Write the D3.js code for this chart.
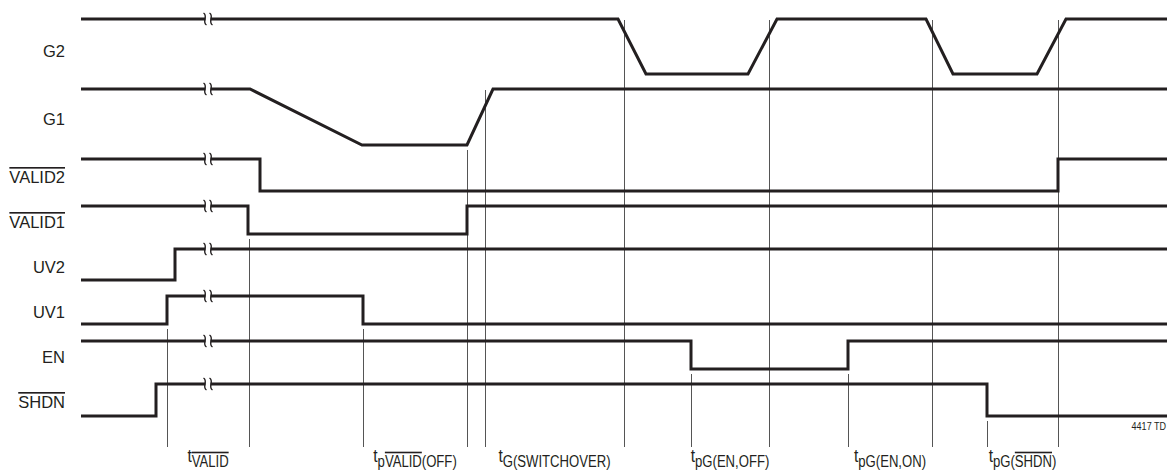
<!DOCTYPE html>
<html>
<head>
<meta charset="utf-8">
<script src="https://cdn.jsdelivr.net/npm/d3@7"></script>
<style>
  body { margin: 0; background: #fff; }
  text { font-family: "Liberation Sans", Arial, sans-serif; fill: #231f20; }
</style>
</head>
<body>
<svg id="chart"></svg>
<script>
// signal names, top to bottom
const signalNames = ["G2", "G1", "VALID2", "VALID1", "UV2", "UV1", "EN", "SHDN"];
const overlinedNames = ["VALID2", "VALID1", "SHDN"];

// waveforms: [time, level] (level 1 = high, 0 = low)
const waveG2 = [[0, 1], [537, 1], [565, 0], [667, 0], [696, 1], [845, 1], [872, 0], [956, 0], [985, 1], [1086, 1]];
const waveG1 = [[0, 1], [169, 1], [281, 0], [386, 0], [412, 1], [1086, 1]];
const waveValid2 = [[0, 1], [179, 0], [977, 1], [1086, 1]];
const waveValid1 = [[0, 1], [167, 0], [386, 1], [1086, 1]];
const waveUv2 = [[0, 0], [94, 1], [1086, 1]];
const waveUv1 = [[0, 0], [86, 1], [282, 0], [1086, 0]];
const waveEn = [[0, 1], [610, 0], [767, 1], [1086, 1]];
const waveShdn = [[0, 0], [75, 1], [906, 0], [1086, 0]];
const waveforms = [waveG2, waveG1, waveValid2, waveValid1, waveUv2, waveUv1, waveEn, waveShdn];
// G1/G2 are ramps, the others are logic steps
const rampSignals = ["G2", "G1"];

// time break marker
const breakTime = 127;

// timing reference lines: time, signal it drops from, level
const guideTimes = [86, 168, 282, 386, 404, 543, 610, 688, 767, 851, 906, 977];
const guideFrom = [["UV1", 0], ["VALID1", 0], ["UV1", 0], ["G1", 0], ["G1", 1], ["G2", 1],
                   ["EN", 0], ["G2", 1], ["EN", 0], ["G2", 1], ["SHDN", 0], ["G2", 1]];

// timing parameter labels (between consecutive guide pairs)
const timingLabels = [
  [["t", ""], ["VALID", "sub over"]],
  [["t", ""], ["p", "sub"], ["VALID", "sub over"], ["(OFF)", "sub"]],
  [["t", ""], ["G(SWITCHOVER)", "sub"]],
  [["t", ""], ["pG(EN,OFF)", "sub"]],
  [["t", ""], ["pG(EN,ON)", "sub"]],
  [["t", ""], ["pG(", "sub"], ["SHDN", "sub over"], [")", "sub"]]
];
const figureId = "4417 TD";

// layout
const width = 1167, height = 472;
const rowHigh = [19, 89, 159, 206, 249, 296, 341, 384];
const rowSwing = [55, 56, 32, 28, 31, 28, 28, 32];
const guideBottom = 447;
const ink = "#231f20";
const narrow = 0.82; // condensed look of the timing labels

const svg = d3.select("#chart").attr("width", width).attr("height", height);

const x = d3.scaleLinear().domain([0, 1086]).range([81, 1167]);
const yRow = signalNames.map((n, i) =>
  d3.scaleLinear().domain([0, 1]).range([rowHigh[i] + rowSwing[i], rowHigh[i]]));

// guides (drawn first, under the waveforms)
svg.selectAll(".guide")
  .data(guideTimes)
  .enter()
  .append("line")
  .attr("class", "guide")
  .attr("x1", d => Math.round(x(d)) + 0.5)
  .attr("x2", d => Math.round(x(d)) + 0.5)
  .attr("y1", (d, i) => {
    const [name, lvl] = guideFrom[i];
    const y = yRow[signalNames.indexOf(name)](lvl);
    return lvl === 0 ? y + 5 : y + 1;
  })
  .attr("y2", guideBottom)
  .attr("stroke", "#555")
  .attr("stroke-width", 1);

// waveforms
signalNames.forEach((name, i) => {
  const line = d3.line()
    .x(d => x(d[0]))
    .y(d => yRow[i](d[1]))
    .curve(rampSignals.includes(name) ? d3.curveLinear : d3.curveStepAfter);
  svg.append("path")
    .attr("d", line(waveforms[i]))
    .attr("fill", "none")
    .attr("stroke", ink)
    .attr("stroke-width", 3)
    .attr("stroke-linejoin", "miter");

  // break marker
  const lvl = waveforms[i].filter(d => d[0] <= breakTime).pop()[1];
  const by = yRow[i](lvl);
  const bx = x(breakTime);
  svg.append("rect")
    .attr("x", bx - 2.5).attr("y", by - 3)
    .attr("width", 5).attr("height", 6)
    .attr("fill", "#fff");
  [-3, 3].forEach(off => {
    const cx = bx + off;
    svg.append("path")
      .attr("d", `M${cx - 1.5},${by - 6} C${cx + 3.5},${by - 3} ${cx - 3.5},${by + 3} ${cx + 1.5},${by + 6}`)
      .attr("fill", "none")
      .attr("stroke", ink)
      .attr("stroke-width", 1.4);
  });

  // row label
  const mid = rowHigh[i] + rowSwing[i] / 2;
  svg.append("text")
    .attr("x", 65)
    .attr("y", mid + (i === 0 ? 4 : 2))
    .attr("text-anchor", "end")
    .attr("dominant-baseline", "central")
    .attr("font-size", "16.5px")
    .attr("text-decoration", overlinedNames.includes(name) ? "overline" : null)
    .text(name);
});

// timing labels
timingLabels.forEach((parts, i) => {
  const t0 = guideTimes[2 * i], t1 = guideTimes[2 * i + 1];
  const cx = (x(t0) + x(t1)) / 2;
  const txt = svg.append("text")
    .attr("transform", `translate(${cx},462) scale(${narrow},1)`)
    .attr("text-anchor", "middle")
    .attr("font-size", "19px");
  let isSub = false;
  parts.forEach(([s, cls]) => {
    const sub = cls.includes("sub");
    const ts = txt.append("tspan").text(s);
    if (sub) ts.attr("font-size", "16px");
    if (sub && !isSub) ts.attr("dy", 5);
    if (cls.includes("over")) ts.attr("text-decoration", "overline");
    isSub = sub;
  });
});

svg.append("text")
  .attr("transform", `translate(1166,430) scale(${narrow},1)`)
  .attr("text-anchor", "end")
  .attr("font-size", "11px")
  .text(figureId);
</script>
</body>
</html>
